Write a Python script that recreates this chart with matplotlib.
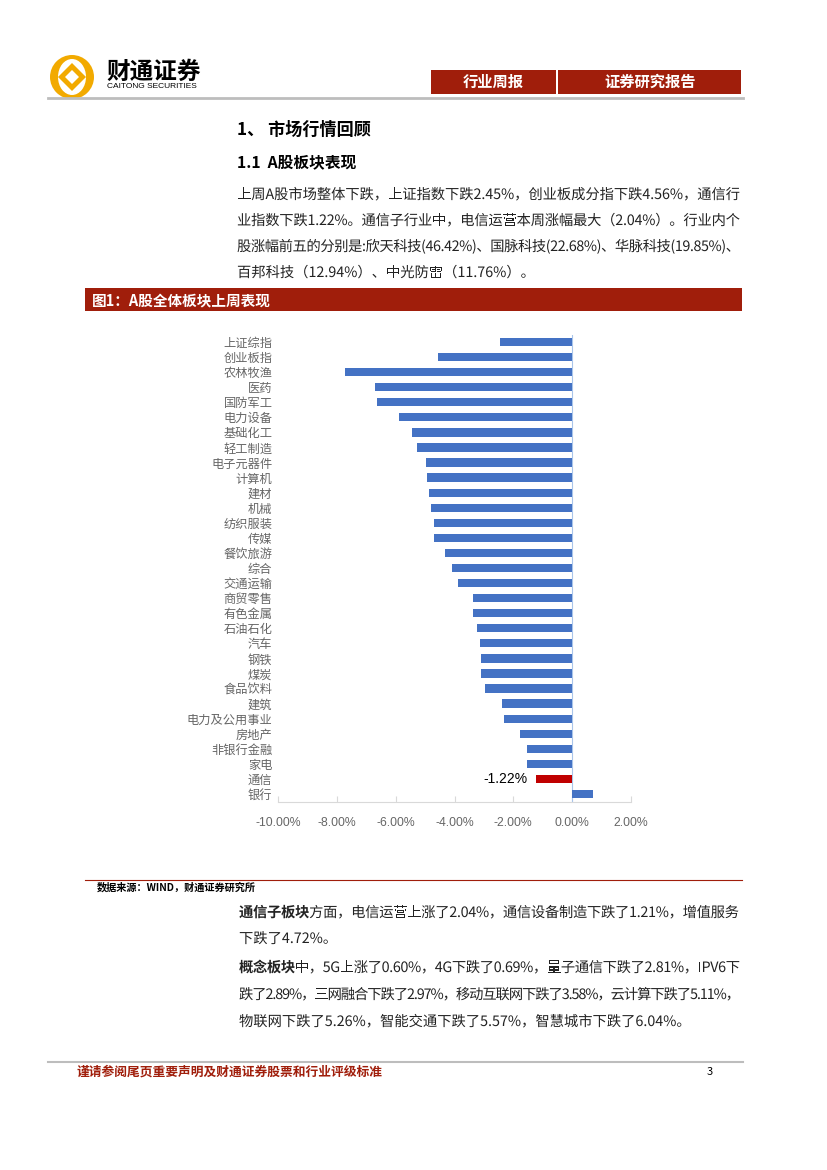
import matplotlib.pyplot as plt
from matplotlib.patches import Rectangle, Circle, Ellipse, RegularPolygon, PathPatch
from matplotlib.textpath import TextPath
from matplotlib.font_manager import FontProperties, findfont, get_font
from matplotlib.transforms import Affine2D

plt.rcParams['font.family'] = ['Noto Sans CJK SC', 'DejaVu Sans']

# chart data (weekly change, %)
sectors = ['上证综指', '创业板指', '农林牧渔', '医药', '国防军工', '电力设备', '基础化工',
           '轻工制造', '电子元器件', '计算机', '建材', '机械', '纺织服装', '传媒',
           '餐饮旅游', '综合', '交通运输', '商贸零售', '有色金属', '石油石化', '汽车',
           '钢铁', '煤炭', '食品饮料', '建筑', '电力及公用事业', '房地产', '非银行金融',
           '家电', '通信', '银行']
changes = [-2.45, -4.56, -7.71, -6.70, -6.63, -5.88, -5.44,
           -5.27, -4.97, -4.93, -4.86, -4.79, -4.69, -4.69,
           -4.32, -4.08, -3.88, -3.37, -3.37, -3.23, -3.13,
           -3.10, -3.10, -2.96, -2.38, -2.31, -1.77, -1.53,
           -1.53, -1.22, 0.72]
highlight = '通信'
xticks = [-10, -8, -6, -4, -2, 0, 2]

# body text: (bold lead, rest, justify?)
para1 = [('', '上周A股市场整体下跌，上证指数下跌2.45%，创业板成分指下跌4.56%，通信行', True),
         ('', '业指数下跌1.22%。通信子行业中，电信运营本周涨幅最大（2.04%）。行业内个', True),
         ('', '股涨幅前五的分别是:欣天科技(46.42%)、国脉科技(22.68%)、华脉科技(19.85%)、', True),
         ('', '百邦科技（12.94%）、中光防雷（11.76%）。', False)]
para2 = [('通信子板块', '方面，电信运营上涨了2.04%，通信设备制造下跌了1.21%，增值服务', True),
         ('', '下跌了4.72%。', False)]
para3 = [('概念板块', '中，5G上涨了0.60%，4G下跌了0.69%，量子通信下跌了2.81%，IPV6下', True),
         ('', '跌了2.89%，三网融合下跌了2.97%，移动互联网下跌了3.58%，云计算下跌了5.11%，', True),
         ('', '物联网下跌了5.26%，智能交通下跌了5.57%，智慧城市下跌了6.04%。', False)]

RED = '#a01e0b'
TXT = '#222222'
fig = plt.figure(figsize=(8.27, 11.7), dpi=100)

# page layer in pixel coordinates
page = fig.add_axes([0, 0, 1, 1])
page.set_xlim(0, 827)
page.set_ylim(1170, 0)
page.axis('off')

fp_reg = FontProperties(family='Noto Sans CJK SC')
fp_bold = FontProperties(family='Noto Sans CJK SC', weight='bold')


def advances(text, fp, size):
    font = get_font(findfont(fp))
    font.set_size(size, 72)
    return [font.load_char(ord(c)).linearHoriAdvance / 65536 for c in text]


def body_line(x, base, lead, rest, width=None, size=14.3):
    chars = [(c, fp_bold) for c in lead] + [(c, fp_reg) for c in rest]
    adv = advances(lead, fp_bold, size) + advances(rest, fp_reg, size)
    extra = 0
    if width:
        extra = (width - sum(adv)) / (len(chars) - 1)
    pen = x
    for (c, fp), a in zip(chars, adv):
        tp = TextPath((0, 0), c, size=size, prop=fp)
        tr = Affine2D().scale(1, -1).translate(pen, base) + page.transData
        page.add_patch(PathPatch(tp, transform=tr, fc=TXT, ec='none', lw=0))
        pen += a + extra


# logo
page.add_patch(Circle((72, 77), 22, fc='#f2aa00', ec='none'))
page.add_patch(Ellipse((72, 77), 28, 36, fc='white', ec='none'))
page.add_patch(RegularPolygon((72, 77), 4, radius=14, fc='#f2aa00', ec='none'))
page.add_patch(RegularPolygon((72, 77), 4, radius=7, fc='white', ec='none'))
page.text(106, 72, '财通证券', fontsize=17, fontweight='bold', va='center', ha='left')
page.text(107, 86, 'CAITONG SECURITIES', fontsize=6, family='Liberation Sans',
          va='center', ha='left')

page.add_patch(Rectangle((431, 70), 125, 24, fc=RED, ec='none'))
page.add_patch(Rectangle((558, 70), 183, 24, fc=RED, ec='none'))
page.text(493, 82, '行业周报', color='white', fontsize=11, fontweight='bold',
          ha='center', va='center')
page.text(650, 82, '证券研究报告', color='white', fontsize=11, fontweight='bold',
          ha='center', va='center')
page.plot([48, 743], [97.5, 97.5], color='#bdbdbd', lw=2)

page.text(237, 130, '1、 市场行情回顾', fontsize=12.3, fontweight='bold', va='center')
page.text(237, 162, '1.1  A股板块表现', fontsize=11.3, fontweight='bold', va='center')
for i, (lead, rest, just) in enumerate(para1):
    body_line(237, 199 + 26 * i, lead, rest, 503 if just else None)

page.add_patch(Rectangle((85, 288), 657, 23, fc=RED, ec='none'))
page.text(92, 300, '图1：A股全体板块上周表现', color='white', fontsize=10.5,
          fontweight='bold', va='center')

page.plot([85, 742], [880, 880], color=RED, lw=0.8)
page.text(97, 887, '数据来源：WIND，财通证券研究所', fontsize=7.3, fontweight='bold',
          va='center')

for i, (lead, rest, just) in enumerate(para2):
    body_line(239, 917 + 26 * i, lead, rest, 500 if just else None)
for i, (lead, rest, just) in enumerate(para3):
    body_line(239, 972 + 27 * i, lead, rest, 501 if just else None)

page.plot([48, 743], [1062, 1062], color='#bdbdbd', lw=1.5)
page.text(77, 1072, '谨请参阅尾页重要声明及财通证券股票和行业评级标准', color=RED,
          fontsize=9.2, fontweight='bold', va='center')
page.text(707, 1072, '3', fontsize=8, va='center')

# chart
ax = fig.add_axes([278 / 827, 1 - 801.5 / 1170, 353 / 827, 467 / 1170])
ax.set_facecolor('none')
colors = ['#c00000' if s == highlight else '#4472c4' for s in sectors]
ax.barh(range(len(sectors)), changes, height=0.55, color=colors, zorder=3)
ax.axvline(0, color='#a9c5ea', lw=0.8, zorder=2)
ax.set_xlim(-10, 2)
ax.set_ylim(len(sectors) - 0.5, -0.5)
ax.set_yticks(range(len(sectors)))
ax.set_yticklabels(sectors)
ax.set_xticks(xticks)
ax.set_xticklabels(['%.2f%%' % v for v in xticks], family='Liberation Sans')
ax.tick_params(axis='y', length=0, pad=4, labelsize=8.8, labelcolor='#666666')
ax.tick_params(axis='x', direction='in', length=4, color='#d9d9d9', pad=11,
               labelsize=8.8, labelcolor='#666666')
for side in ['left', 'top', 'right']:
    ax.spines[side].set_visible(False)
ax.spines['bottom'].set_color('#d9d9d9')

k = sectors.index(highlight)
ax.annotate('%.2f%%' % changes[k], xy=(changes[k], k), xytext=(-6.5, 0),
            textcoords='offset points', ha='right', va='center', fontsize=10,
            family='Liberation Sans')

fig.savefig('out.png', dpi=100)
